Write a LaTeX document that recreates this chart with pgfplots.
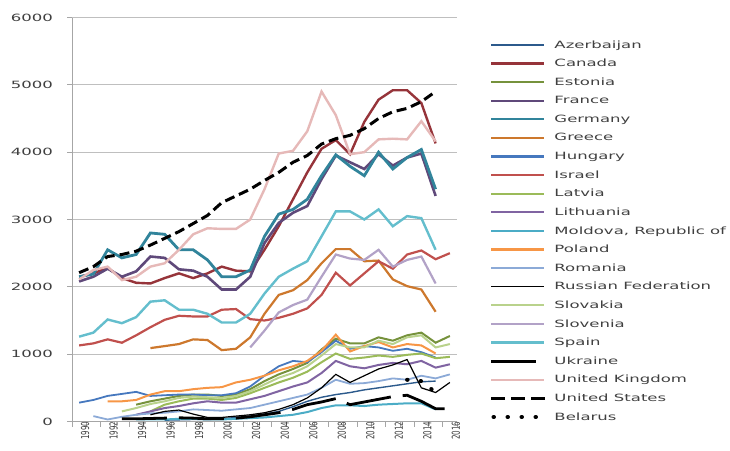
\documentclass[border=0pt]{standalone}
\usepackage{fontspec}
\setmainfont{DejaVu Sans}[FakeStretch=1.65]
\newfontfamily\xtickfont{DejaVu Sans}[FakeStretch=0.65]
\usepackage{pgfplots}
\pgfplotsset{compat=1.18}
\definecolor{azer}{RGB}{44,90,140}
\definecolor{canada}{RGB}{150,52,58}
\definecolor{estonia}{RGB}{118,146,60}
\definecolor{france}{RGB}{95,73,122}
\definecolor{germany}{RGB}{49,132,155}
\definecolor{greece}{RGB}{205,120,45}
\definecolor{hungary}{RGB}{70,120,190}
\definecolor{israel}{RGB}{192,80,77}
\definecolor{latvia}{RGB}{155,187,89}
\definecolor{lithuania}{RGB}{128,100,162}
\definecolor{moldova}{RGB}{75,172,198}
\definecolor{poland}{RGB}{247,150,70}
\definecolor{romania}{RGB}{140,170,215}
\definecolor{slovakia}{RGB}{185,210,140}
\definecolor{slovenia}{RGB}{178,162,199}
\definecolor{spain}{RGB}{100,190,205}
\definecolor{uk}{RGB}{230,185,184}
\definecolor{txt}{RGB}{64,64,64}
\begin{document}
\begin{tikzpicture}
\begin{axis}[
  at={(72pt,28.5pt)}, anchor=south west, scale only axis,
  width=385pt, height=404pt,
  xmin=1989.5, xmax=2016.5, ymin=0, ymax=6000,
  axis x line*=bottom, axis y line*=left,
  axis line style={draw=gray!70, line width=0.8pt},
  ytick={0,1000,2000,3000,4000,5000,6000},
  ymajorgrids, major grid style={draw=gray!50, line width=0.8pt},
  tick align=outside, major tick length=5pt,
  tick style={draw=gray!70, line width=0.7pt},
  /pgf/number format/assume math mode=true,
  yticklabel style={text=txt, /pgf/number format/1000 sep={}, inner sep=0pt, anchor=east, xshift=-14pt},
  xtick={1989.5,1990.5,1991.5,1992.5,1993.5,1994.5,1995.5,1996.5,1997.5,1998.5,1999.5,2000.5,2001.5,2002.5,2003.5,2004.5,2005.5,2006.5,2007.5,2008.5,2009.5,2010.5,2011.5,2012.5,2013.5,2014.5,2015.5,2016.5},
  xticklabels={},
  extra x ticks={1990,1992,1994,1996,1998,2000,2002,2004,2006,2008,2010,2012,2014,2016},
  extra x tick labels={1990,1992,1994,1996,1998,2000,2002,2004,2006,2008,2010,2012,2014,2016},
  extra x tick style={major tick length=0pt, grid=none,
     tick label style={font=\xtickfont\fontsize{11}{12}\selectfont, text=txt, rotate=90, anchor=east, inner sep=0pt, yshift=-6pt}},
  clip=false,
  legend image code/.code={\draw[#1, line width=2.2pt] (0pt,0pt) -- (53pt,0pt);},
  legend style={at={(1.0857,0.955)}, anchor=north west, draw=none, fill=none,
     inner sep=0pt, outer sep=0pt, column sep=7pt, row sep=0pt,
     nodes={inner sep=0pt, minimum height=18.6pt, text=txt}},
  legend cell align=left,
]
% Azerbaijan
\addplot[azer, line width=1.4pt] coordinates {(1996,20)(1997,25)(1998,30)(1999,30)(2000,40)(2001,60)(2002,80)(2003,110)(2004,150)(2005,220)(2006,300)(2007,360)(2008,400)(2009,430)(2010,470)(2011,500)(2012,530)(2013,560)(2014,590)(2015,600)};
\addlegendentry{Azerbaijan}
% Canada
\addplot[canada, line width=2.4pt] coordinates {(1990,2150)(1991,2200)(1992,2280)(1993,2130)(1994,2060)(1995,2050)(1996,2130)(1997,2200)(1998,2130)(1999,2200)(2000,2300)(2001,2240)(2002,2230)(2003,2550)(2004,2900)(2005,3300)(2006,3700)(2007,4050)(2008,4180)(2009,3970)(2010,4450)(2011,4780)(2012,4920)(2013,4920)(2014,4730)(2015,4130)};
\addlegendentry{Canada}
% Estonia
\addplot[estonia, line width=2pt] coordinates {(1994,250)(1995,300)(1996,340)(1997,380)(1998,400)(1999,400)(2000,380)(2001,400)(2002,480)(2003,600)(2004,700)(2005,780)(2006,870)(2007,1070)(2008,1230)(2009,1160)(2010,1160)(2011,1250)(2012,1200)(2013,1280)(2014,1320)(2015,1170)(2016,1270)};
\addlegendentry{Estonia}
% France
\addplot[france, line width=2.6pt] coordinates {(1990,2080)(1991,2150)(1992,2270)(1993,2150)(1994,2230)(1995,2450)(1996,2430)(1997,2260)(1998,2240)(1999,2150)(2000,1960)(2001,1960)(2002,2150)(2003,2650)(2004,2950)(2005,3100)(2006,3200)(2007,3600)(2008,3950)(2009,3850)(2010,3750)(2011,3970)(2012,3800)(2013,3920)(2014,3980)(2015,3350)};
\addlegendentry{France}
% Germany
\addplot[germany, line width=2.8pt] coordinates {(1990,2150)(1991,2190)(1992,2550)(1993,2430)(1994,2480)(1995,2800)(1996,2780)(1997,2550)(1998,2550)(1999,2400)(2000,2150)(2001,2150)(2002,2250)(2003,2750)(2004,3080)(2005,3150)(2006,3300)(2007,3650)(2008,3960)(2009,3790)(2010,3650)(2011,4000)(2012,3750)(2013,3920)(2014,4040)(2015,3450)};
\addlegendentry{Germany}
% Greece
\addplot[greece, line width=2.2pt] coordinates {(1995,1090)(1996,1120)(1997,1150)(1998,1220)(1999,1210)(2000,1060)(2001,1080)(2002,1250)(2003,1600)(2004,1880)(2005,1950)(2006,2100)(2007,2350)(2008,2560)(2009,2560)(2010,2380)(2011,2390)(2012,2110)(2013,2010)(2014,1960)(2015,1630)};
\addlegendentry{Greece}
% Hungary
\addplot[hungary, line width=1.8pt] coordinates {(1990,280)(1991,320)(1992,380)(1993,410)(1994,440)(1995,380)(1996,390)(1997,400)(1998,400)(1999,390)(2000,390)(2001,420)(2002,520)(2003,680)(2004,820)(2005,900)(2006,880)(2007,1030)(2008,1200)(2009,1080)(2010,1120)(2011,1100)(2012,1050)(2013,1080)(2014,1030)(2015,950)};
\addlegendentry{Hungary}
% Israel
\addplot[israel, line width=2.2pt] coordinates {(1990,1130)(1991,1160)(1992,1220)(1993,1170)(1994,1280)(1995,1400)(1996,1510)(1997,1570)(1998,1560)(1999,1560)(2000,1660)(2001,1670)(2002,1520)(2003,1500)(2004,1540)(2005,1600)(2006,1680)(2007,1880)(2008,2210)(2009,2020)(2010,2200)(2011,2380)(2012,2270)(2013,2480)(2014,2540)(2015,2410)(2016,2500)};
\addlegendentry{Israel}
% Latvia
\addplot[latvia, line width=2pt] coordinates {(1995,150)(1996,250)(1997,300)(1998,340)(1999,340)(2000,320)(2001,350)(2002,420)(2003,500)(2004,580)(2005,650)(2006,740)(2007,880)(2008,1010)(2009,930)(2010,950)(2011,980)(2012,960)(2013,990)(2014,1010)(2015,940)(2016,960)};
\addlegendentry{Latvia}
% Lithuania
\addplot[lithuania, line width=2pt] coordinates {(1994,100)(1995,150)(1996,200)(1997,230)(1998,270)(1999,300)(2000,280)(2001,280)(2002,330)(2003,380)(2004,450)(2005,520)(2006,580)(2007,720)(2008,900)(2009,820)(2010,790)(2011,840)(2012,870)(2013,850)(2014,900)(2015,800)(2016,850)};
\addlegendentry{Lithuania}
% Moldova
\addplot[moldova, line width=2pt] coordinates {(1994,30)(1995,30)(1996,30)(1997,40)(1998,40)(1999,30)(2000,30)(2001,40)(2002,50)(2003,60)(2004,80)(2005,100)(2006,140)(2007,200)(2008,240)(2009,240)(2010,230)(2011,250)(2012,260)(2013,270)(2014,270)(2015,180)};
\addlegendentry{Moldova, Republic of}
% Poland
\addplot[poland, line width=2pt] coordinates {(1992,300)(1993,300)(1994,320)(1995,400)(1996,450)(1997,450)(1998,480)(1999,500)(2000,510)(2001,580)(2002,620)(2003,680)(2004,760)(2005,820)(2006,900)(2007,1050)(2008,1290)(2009,1040)(2010,1120)(2011,1180)(2012,1100)(2013,1150)(2014,1130)(2015,1010)};
\addlegendentry{Poland}
% Romania
\addplot[romania, line width=1.8pt] coordinates {(1991,80)(1992,30)(1993,70)(1994,100)(1995,120)(1996,130)(1997,150)(1998,180)(1999,170)(2000,160)(2001,180)(2002,200)(2003,250)(2004,300)(2005,350)(2006,400)(2007,500)(2008,620)(2009,560)(2010,570)(2011,600)(2012,640)(2013,620)(2014,680)(2015,640)(2016,700)};
\addlegendentry{Romania}
% Russian Federation
\addplot[black, line width=1.2pt, legend image code/.code={\draw[black, line width=1.4pt] (0pt,0pt) -- (53pt,0pt);}] coordinates {(1995,100)(1996,150)(1997,170)(1998,110)(1999,60)(2000,60)(2001,80)(2002,100)(2003,130)(2004,180)(2005,250)(2006,350)(2007,500)(2008,700)(2009,580)(2010,680)(2011,780)(2012,840)(2013,920)(2014,500)(2015,430)(2016,580)};
\addlegendentry{Russian Federation}
% Slovakia
\addplot[slovakia, line width=2pt] coordinates {(1993,150)(1994,200)(1995,260)(1996,300)(1997,350)(1998,370)(1999,360)(2000,350)(2001,380)(2002,450)(2003,550)(2004,650)(2005,720)(2006,820)(2007,980)(2008,1150)(2009,1100)(2010,1100)(2011,1200)(2012,1150)(2013,1250)(2014,1280)(2015,1100)(2016,1150)};
\addlegendentry{Slovakia}
% Slovenia
\addplot[slovenia, line width=2.2pt] coordinates {(2002,1100)(2003,1350)(2004,1620)(2005,1730)(2006,1810)(2007,2150)(2008,2480)(2009,2420)(2010,2400)(2011,2550)(2012,2300)(2013,2400)(2014,2450)(2015,2050)};
\addlegendentry{Slovenia}
% Spain
\addplot[spain, line width=2.4pt] coordinates {(1990,1260)(1991,1320)(1992,1515)(1993,1460)(1994,1550)(1995,1780)(1996,1800)(1997,1660)(1998,1660)(1999,1600)(2000,1470)(2001,1470)(2002,1600)(2003,1900)(2004,2150)(2005,2270)(2006,2380)(2007,2750)(2008,3120)(2009,3120)(2010,3000)(2011,3150)(2012,2900)(2013,3050)(2014,3020)(2015,2550)};
\addlegendentry{Spain}
% Ukraine
\addplot[black, line width=2.8pt, dash pattern=on 45pt off 12pt, legend image code/.code={\draw[black, line width=2.8pt] (0pt,0pt) -- (45pt,0pt);}] coordinates {(1993,40)(1994,40)(1995,45)(1996,50)(1997,55)(1998,50)(1999,40)(2000,40)(2001,50)(2002,70)(2003,100)(2004,130)(2005,180)(2006,250)(2007,290)(2008,340)(2009,250)(2010,290)(2011,330)(2012,370)(2013,390)(2014,300)(2015,190)(2016,190)};
\addlegendentry{Ukraine}
% United Kingdom
\addplot[uk, line width=2.4pt] coordinates {(1990,2110)(1991,2250)(1992,2300)(1993,2100)(1994,2150)(1995,2300)(1996,2350)(1997,2550)(1998,2780)(1999,2870)(2000,2860)(2001,2860)(2002,3000)(2003,3450)(2004,3980)(2005,4020)(2006,4310)(2007,4900)(2008,4550)(2009,3970)(2010,4000)(2011,4190)(2012,4200)(2013,4190)(2014,4460)(2015,4160)};
\addlegendentry{United Kingdom}
% United States
\addplot[black, line width=3pt, dash pattern=on 10pt off 5pt, legend image code/.code={\draw[black, line width=3pt, dash pattern=on 14pt off 6pt] (0pt,0pt) -- (54pt,0pt);}] coordinates {(1990,2210)(1991,2300)(1992,2450)(1993,2480)(1994,2530)(1995,2620)(1996,2720)(1997,2820)(1998,2940)(1999,3060)(2000,3250)(2001,3350)(2002,3450)(2003,3580)(2004,3700)(2005,3850)(2006,3950)(2007,4120)(2008,4200)(2009,4250)(2010,4350)(2011,4500)(2012,4600)(2013,4650)(2014,4750)(2015,4900)};
\addlegendentry{United States}
% Belarus
\addplot[black, line width=4pt, line cap=round, dash pattern=on 0.5pt off 13pt, legend image code/.code={\draw[black, line width=4pt, line cap=round, dash pattern=on 0.5pt off 13.5pt] (2pt,0pt) -- (54pt,0pt);}] coordinates {(2013,620)(2014,600)(2015,430)};
\addlegendentry{Belarus}
\end{axis}
\pgfresetboundingbox
\useasboundingbox (0,0) rectangle (730pt,450pt);
\end{tikzpicture}
\end{document}
